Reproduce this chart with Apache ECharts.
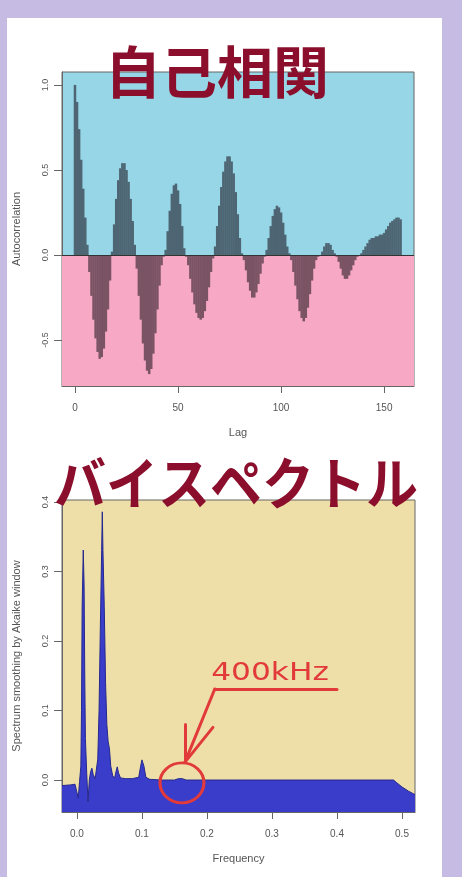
<!DOCTYPE html>
<html>
<head>
<meta charset="utf-8">
<script src="https://cdn.jsdelivr.net/npm/echarts@6/dist/echarts.min.js"></script>
<style>
  html, body { margin: 0; padding: 0; background: #c6bce3; }
  #main { width: 462px; height: 877px; }
</style>
</head>
<body>
<div id="main"></div>
<script>
  // 自己相関 (lag 0..158)
  const acf = [
    1.00, 0.90, 0.74, 0.56, 0.39, 0.22, 0.06, -0.10, -0.24, -0.38,
    -0.49, -0.57, -0.61, -0.60, -0.55, -0.45, -0.32, -0.15, 0.02, 0.18,
    0.33, 0.44, 0.51, 0.54, 0.54, 0.50, 0.43, 0.33, 0.20, 0.06,
    -0.08, -0.24, -0.38, -0.52, -0.62, -0.68, -0.70, -0.67, -0.58, -0.46,
    -0.32, -0.18, -0.06, -0.01, 0.03, 0.14, 0.26, 0.36, 0.41, 0.42,
    0.38, 0.30, 0.17, 0.04, -0.01, -0.06, -0.14, -0.22, -0.29, -0.34,
    -0.37, -0.38, -0.37, -0.33, -0.27, -0.19, -0.10, -0.02, 0.05, 0.17,
    0.29, 0.40, 0.49, 0.55, 0.58, 0.58, 0.55, 0.48, 0.37, 0.24,
    0.10, 0.01, -0.03, -0.09, -0.16, -0.21, -0.25, -0.25, -0.22, -0.17,
    -0.11, -0.05, -0.01, 0.03, 0.10, 0.17, 0.23, 0.27, 0.29, 0.28,
    0.25, 0.19, 0.12, 0.05, 0.01, -0.03, -0.10, -0.18, -0.26, -0.33,
    -0.37, -0.39, -0.37, -0.31, -0.23, -0.15, -0.08, -0.03, -0.01, 0.00,
    0.02, 0.05, 0.07, 0.07, 0.06, 0.03, 0.01, -0.01, -0.04, -0.08,
    -0.12, -0.14, -0.14, -0.12, -0.09, -0.06, -0.03, -0.01, 0.00, 0.01,
    0.03, 0.05, 0.07, 0.09, 0.10, 0.10, 0.11, 0.11, 0.12, 0.12,
    0.13, 0.15, 0.17, 0.19, 0.20, 0.21, 0.22, 0.22, 0.21
  ];
  const lagTicks = [0, 50, 100, 150];
  const acfTicks = [-0.5, 0, 0.5, 1.0];

  // バイスペクトル
  const freq = [
    -0.023, -0.010, -0.003, 0.000, 0.002, 0.004, 0.006, 0.007, 0.008, 0.0097,
    0.011, 0.012, 0.013, 0.015, 0.017, 0.019, 0.021, 0.023, 0.025, 0.028,
    0.031, 0.032, 0.034, 0.036, 0.038, 0.039, 0.040, 0.042, 0.044, 0.046,
    0.048, 0.050, 0.052, 0.055, 0.058, 0.060, 0.062, 0.064, 0.067, 0.075,
    0.085, 0.095, 0.098, 0.100, 0.103, 0.106, 0.112, 0.130, 0.150, 0.156,
    0.159, 0.162, 0.168, 0.200, 0.300, 0.400, 0.487, 0.492, 0.500, 0.510,
    0.520
  ];
  const spec = [
    -0.008, -0.007, -0.006, -0.004, -0.026, -0.002, 0.020, 0.100, 0.250, 0.331,
    0.280, 0.150, 0.060, 0.010, -0.031, 0.000, 0.012, 0.017, 0.008, 0.002,
    0.000, 0.030, 0.100, 0.220, 0.330, 0.386, 0.330, 0.250, 0.140, 0.080,
    0.055, 0.045, 0.020, 0.006, 0.003, 0.012, 0.019, 0.010, 0.003, 0.002,
    0.002, 0.004, 0.020, 0.029, 0.020, 0.004, 0.001, 0.000, 0.000, 0.002,
    0.004, 0.002, 0.000, 0.000, 0.000, 0.000, 0.000, -0.004, -0.010, -0.016,
    -0.021
  ];
  const freqTicks = [0, 0.1, 0.2, 0.3, 0.4, 0.5];
  const specTicks = [0, 0.1, 0.2, 0.3, 0.4];

  // 注記 (400kHz)
  const notePos = [0.297, 0.154];
  const noteLine = [[0.4, 0.131], [0.212, 0.131]];
  const arrowTip = [0.1662, 0.0257];
  const arrowArms = [[0.1662, 0.080], [0.2092, 0.0757]];
  const circlePos = [0.1615, -0.004];

  const red = '#e23a3a';
  const grey = '#555';

  function rAxisX(idx, min, max, ticks, name, gap) {
    return {
      type: 'value', gridIndex: idx, min: min, max: max,
      splitLine: { show: false },
      axisLine: { show: true, onZero: false, lineStyle: { color: '#666' } },
      axisTick: { show: true, customValues: ticks, length: 7, lineStyle: { color: '#666' } },
      axisLabel: { customValues: ticks, margin: 17, fontSize: 10, fontFamily: 'Liberation Sans', color: grey,
        formatter: v => idx === 0 ? String(v) : v.toFixed(1) },
      name: name, nameLocation: 'middle', nameGap: gap,
      nameTextStyle: { fontFamily: 'Liberation Sans', fontSize: 11, color: grey }
    };
  }
  function rAxisY(idx, min, max, ticks, name) {
    return {
      type: 'value', gridIndex: idx, min: min, max: max,
      splitLine: { show: false },
      axisLine: { show: true, onZero: false, lineStyle: { color: '#666' } },
      axisTick: { show: true, customValues: ticks, length: 8, lineStyle: { color: '#666' } },
      axisLabel: { customValues: ticks, margin: 12, rotate: 90, fontSize: 9, fontFamily: 'Liberation Sans', color: grey,
        formatter: v => v.toFixed(1) },
      name: name, nameLocation: 'middle', nameGap: 40,
      nameTextStyle: { fontFamily: 'Liberation Sans', fontSize: 11, color: grey }
    };
  }

  const chart = echarts.init(document.getElementById('main'));
  chart.setOption({
    backgroundColor: '#c6bce3',
    animation: false,
    grid: [
      { left: 62, top: 72, width: 352, height: 314, show: true, backgroundColor: '#96d6e6', borderColor: '#666' },
      { left: 62, top: 500, width: 353, height: 312, show: true, backgroundColor: '#eedfa9', borderColor: '#666' }
    ],
    xAxis: [
      rAxisX(0, -6.3, 164.5, lagTicks, 'Lag', 41),
      rAxisX(1, -0.023, 0.52, freqTicks, 'Frequency', 41)
    ],
    yAxis: [
      rAxisY(0, -0.77, 1.076, acfTicks, 'Autocorrelation'),
      rAxisY(1, -0.046, 0.403, specTicks, 'Spectrum smoothing by Akaike window')
    ],
    series: [
      {
        name: 'acf', type: 'bar', xAxisIndex: 0, yAxisIndex: 0,
        barWidth: 2.5, z: 2,
        data: acf.map((v, i) => [i, v]),
        itemStyle: { color: p => p.value[1] >= 0 ? '#4e6573' : '#7a5464' },
        markArea: {
          silent: true,
          itemStyle: { color: '#f7a8c4' },
          data: [[{ yAxis: -0.77 }, { yAxis: 0 }]]
        },
        markLine: {
          silent: true, symbol: ['none', 'none'],
          lineStyle: { color: '#333', width: 1, type: 'solid' },
          label: { show: false },
          data: [{ yAxis: 0 }]
        }
      },
      {
        name: 'spectrum', type: 'line', xAxisIndex: 1, yAxisIndex: 1,
        showSymbol: false, symbol: 'none',
        data: freq.map((f, i) => [f, spec[i]]),
        lineStyle: { color: '#25288e', width: 1 },
        areaStyle: { color: '#3a3dca', opacity: 1, origin: 'start' },
        markLine: {
          silent: true, symbol: ['none', 'none'],
          lineStyle: { color: red, width: 3, type: 'solid', cap: 'round' },
          label: { show: false },
          data: [
            [{ coord: noteLine[0] }, { coord: noteLine[1] }],
            [{ coord: noteLine[1] }, { coord: arrowTip }],
            [{ coord: arrowTip }, { coord: arrowArms[0] }],
            [{ coord: arrowTip }, { coord: arrowArms[1] }]
          ]
        },
        markPoint: {
          silent: true,
          data: [
            { coord: circlePos, symbol: 'circle', symbolSize: [44, 40],
              itemStyle: { color: 'rgba(0,0,0,0)', borderColor: red, borderWidth: 3 },
              label: { show: false } }
          ]
        }
      }
    ]
  });

  // 400kHz のラベル（データ座標から位置を求める）
  const p = chart.convertToPixel({ gridIndex: 1 }, notePos);
  chart.setOption({
    graphic: [
      { type: 'rect', z: -10, shape: { x: 7, y: 18, width: 435, height: 870 }, style: { fill: '#fff' } },
      { type: 'text', z: 100, x: 217, y: 72, style: { text: '自己相関', fill: '#8b0f2c',
        font: 'bold 56px "Noto Sans CJK JP"', textAlign: 'center', textVerticalAlign: 'middle' } },
      { type: 'text', z: 100, x: 236, y: 483, scaleY: 1.08, style: { text: 'バイスペクトル', fill: '#8b0f2c',
        font: 'bold 52px "Noto Sans CJK JP"', textAlign: 'center', textVerticalAlign: 'middle' } },
      { type: 'text', z: 100, x: p[0], y: p[1], scaleX: 1.25, style: { text: '400kHz', fill: red,
        font: '25px "DejaVu Sans"', textAlign: 'center', textVerticalAlign: 'middle' } }
    ]
  });
</script>
</body>
</html>
